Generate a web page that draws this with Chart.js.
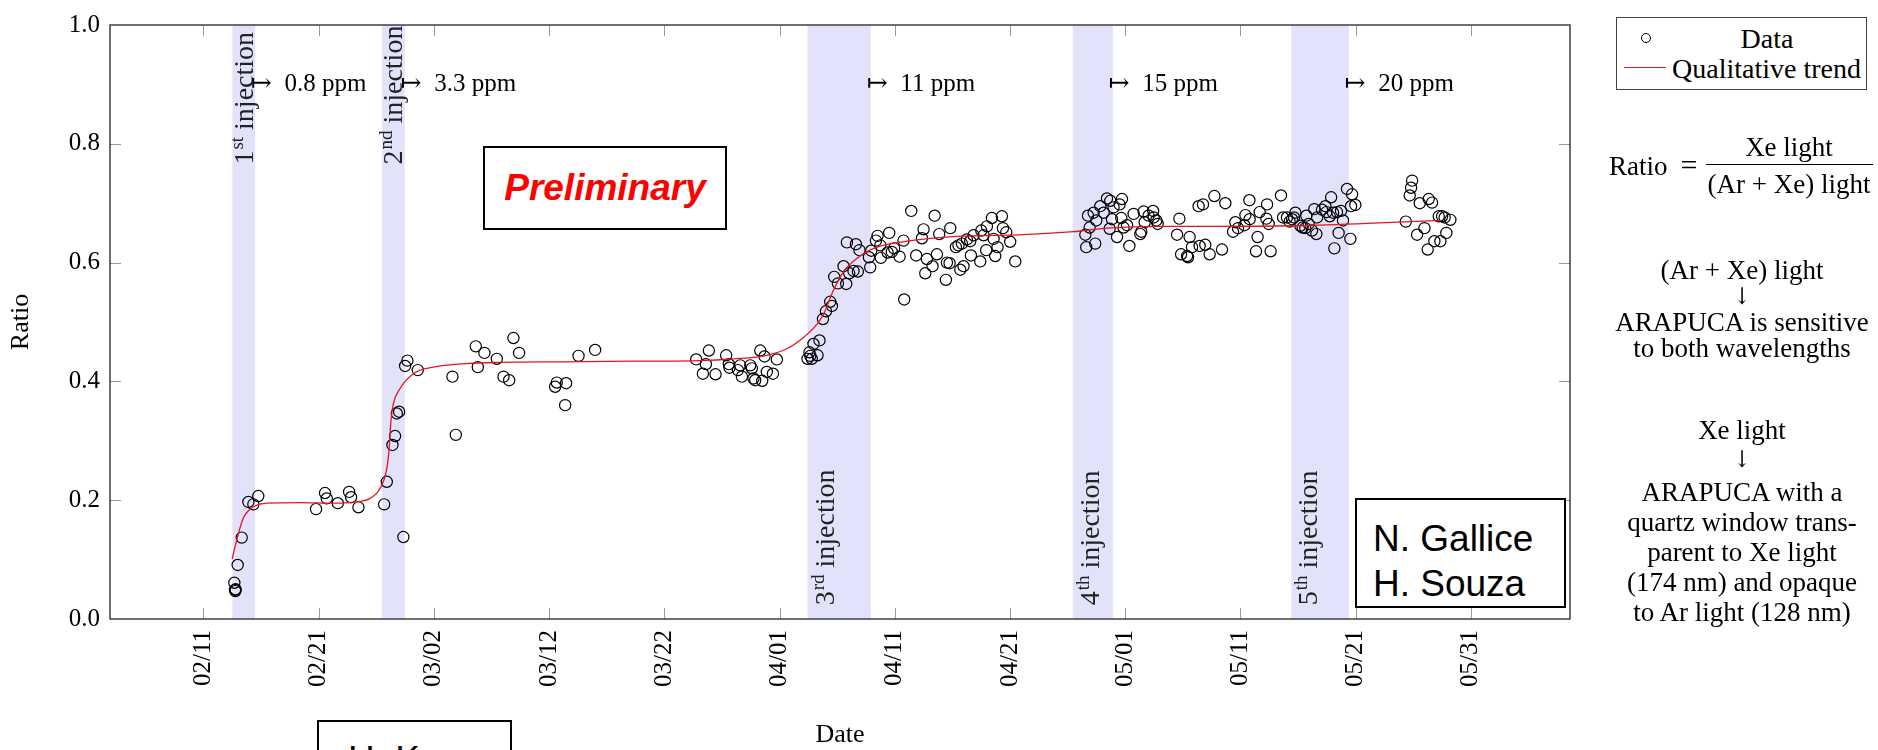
<!DOCTYPE html>
<html>
<head>
<meta charset="utf-8">
<title>Xe doping ratio</title>
<script src="https://cdn.jsdelivr.net/npm/chart.js@4.4.1/dist/chart.umd.min.js"></script>
<style>
  body { margin: 0; background: #fff; overflow: hidden; }
  #wrap { position: relative; width: 1878px; height: 750px; overflow: hidden; }
  #chart { position: absolute; left: 0; top: 0; }
  .box { position: absolute; box-sizing: border-box; border: 2px solid #000; background: #fff; }
  .sans { position: absolute; font-family: "Liberation Sans", Arial, sans-serif; font-size: 37px; line-height: 45px; white-space: nowrap; }
  .tex { position: absolute; font-family: "Liberation Serif", "DejaVu Serif", serif; font-size: 27px; line-height: 1; white-space: nowrap; color: #000; transform: translate(-50%, -50%); }
  .texl { transform: translate(0, -50%); }
  .arrow { font-family: "DejaVu Serif", serif; font-size: 20px; transform: translate(-50%, -50%) scaleY(1.15); }
</style>
</head>
<body>
<div id="wrap">
  <canvas id="chart" width="1878" height="750"></canvas>

  <!-- caixas de texto sobre o gráfico -->
  <div class="box" style="left:483px; top:146px; width:244px; height:84px;"></div>
  <div class="sans" style="left:483px; top:165px; width:244px; text-align:center; color:#f00; font-weight:bold; font-style:italic;">Preliminary</div>

  <div class="box" style="left:1355px; top:498px; width:211px; height:110px;"></div>
  <div class="sans" style="left:1373px; top:516px;">N. Gallice</div>
  <div class="sans" style="left:1373px; top:561px;">H. Souza</div>

  <div class="box" style="left:317px; top:720px; width:195px; height:60px;"></div>
  <div class="sans" style="left:348px; top:737px;">H. K</div>

  <!-- legenda -->
  <div class="box" style="left:1616px; top:17px; width:251px; height:73px; border:1.3px solid #444;"></div>
  <div style="position:absolute; left:1641px; top:33px; width:8px; height:8px; border:1.2px solid #000; border-radius:50%;"></div>
  <div class="tex" style="left:1767px; top:39px; font-size:28px;">Data</div>
  <div style="position:absolute; left:1624px; top:67px; width:42px; height:1.3px; background:#e8141c;"></div>
  <div class="tex texl" style="left:1672px; top:69px; font-size:28px;">Qualitative trend</div>

  <!-- fórmula e notas -->
  <div class="tex texl" style="left:1609px; top:166px;">Ratio</div>
  <div class="tex" style="left:1689px; top:165px; font-size:30px;">=</div>
  <div class="tex" style="left:1789px; top:147px;">Xe light</div>
  <div style="position:absolute; left:1706px; top:164px; width:167px; height:1.3px; background:#000;"></div>
  <div class="tex" style="left:1789px; top:184px;">(Ar + Xe) light</div>

  <div class="tex" style="left:1742px; top:270px;">(Ar + Xe) light</div>
  <div class="tex arrow" style="left:1742px; top:296px;">↓</div>
  <div class="tex" style="left:1742px; top:322px;">ARAPUCA is sensitive</div>
  <div class="tex" style="left:1742px; top:348px;">to both wavelengths</div>

  <div class="tex" style="left:1742px; top:430px;">Xe light</div>
  <div class="tex arrow" style="left:1742px; top:459px;">↓</div>
  <div class="tex" style="left:1742px; top:492px;">ARAPUCA with a</div>
  <div class="tex" style="left:1742px; top:522px;">quartz window trans-</div>
  <div class="tex" style="left:1742px; top:552px;">parent to Xe light</div>
  <div class="tex" style="left:1742px; top:582px;">(174 nm) and opaque</div>
  <div class="tex" style="left:1742px; top:612px;">to Ar light (128 nm)</div>
</div>

<script>
// ── Eixo x: dias contados a partir de 02/11 ──
const tickDays = [0, 10, 20, 30, 40, 50, 60, 70, 80, 90, 100, 110];
const tickLabels = ["02/11", "02/21", "03/02", "03/12", "03/22", "04/01",
  "04/11", "04/21", "05/01", "05/11", "05/21", "05/31"];

// ── Períodos de injeção ──
const injStart = [2.52, 15.51, 52.43, 75.45, 94.42];
const injEnd = [4.49, 17.48, 57.93, 78.93, 99.41];
const injNumber = ["1", "2", "3", "4", "5"];
const injSuffix = ["st", "nd", "rd", "th", "th"];
const ppmLabels = ["0.8 ppm", "3.3 ppm", "11 ppm", "15 ppm", "20 ppm"];

// ── Medidas ──
const dataDays = [
  2.69, 2.75, 2.78, 2.80, 2.98, 3.33, 3.91, 4.34, 4.77,
  9.78, 10.56, 10.71, 11.67, 12.65, 12.82, 13.46,
  15.69, 15.92, 16.41, 16.64, 16.79, 16.99, 17.36, 17.51, 17.71, 18.61,
  21.62, 21.91, 23.64, 23.82, 24.39, 25.47, 26.05, 26.54, 26.91, 27.40,
  30.53, 30.67, 31.40, 31.48, 32.56, 34.00,
  42.77, 43.35, 43.61, 43.87, 44.45, 45.37, 45.60, 45.66, 46.39, 46.59,
  46.74, 47.46, 47.60, 47.74, 47.89, 48.33, 48.50, 48.70, 48.90, 49.43, 49.77,
  52.43, 52.60, 52.67, 52.80, 52.95, 53.30, 53.47, 53.77, 54.03, 54.40,
  54.55, 54.75, 55.07, 55.56, 55.79, 55.85, 56.05, 56.42, 56.63, 56.80,
  56.94, 57.76, 57.87, 57.96, 58.37, 58.51, 58.75, 58.80, 59.38, 59.52,
  59.75, 59.95, 60.42, 60.76, 60.82, 61.43, 61.86, 62.36, 62.50, 62.65,
  62.79, 63.28, 63.46, 63.66, 63.86, 64.44, 64.53, 64.76, 64.82, 65.31,
  65.53, 65.69, 65.83, 65.97, 66.26, 66.55, 66.61, 66.84, 67.42, 67.51,
  67.71, 67.94, 68.00, 68.43, 68.58, 68.72, 68.92, 69.30, 69.39, 69.68,
  70.02, 70.46,
  76.54, 76.62, 76.77, 76.91, 77.26, 77.40, 77.49, 77.84, 78.13, 78.42,
  78.65, 78.71, 78.85, 78.99, 79.29, 79.51, 79.66, 79.72, 79.86, 80.16,
  80.36, 80.73, 81.31, 81.40, 81.60, 81.69, 82.03, 82.42, 82.47, 82.70,
  82.82, 84.50, 84.70, 84.85, 85.37, 85.45, 85.59, 85.80, 86.37, 86.46,
  86.75, 86.95, 87.33, 87.74, 88.40, 88.69, 89.36, 89.56, 89.79, 90.34,
  90.43, 90.78, 90.80, 91.35, 91.49, 91.67, 92.25, 92.31, 92.45, 92.62,
  93.52, 93.70, 94.04, 94.27, 94.48, 94.65, 94.77, 95.20, 95.40, 95.63,
  95.72, 95.92, 96.21, 96.41, 96.59, 96.65, 97.08, 97.37, 97.46, 97.75,
  97.87, 98.04, 98.15, 98.38, 98.52, 98.73, 98.90, 99.25, 99.54, 99.60,
  99.69, 99.97,
  104.35, 104.69, 104.81, 104.90, 105.33, 105.56, 105.97, 106.25, 106.34,
  106.63, 106.83, 107.21, 107.35, 107.50, 107.72, 107.87, 108.22,
];
const dataRatio = [
  0.061, 0.049, 0.047, 0.050, 0.091, 0.137, 0.197, 0.193, 0.207,
  0.185, 0.212, 0.203, 0.195, 0.214, 0.205, 0.188,
  0.193, 0.231, 0.293, 0.308, 0.346, 0.349, 0.138, 0.426, 0.435, 0.419,
  0.408, 0.310, 0.459, 0.424, 0.448, 0.438, 0.408, 0.402, 0.473, 0.448,
  0.391, 0.398, 0.360, 0.397, 0.443, 0.453,
  0.437, 0.413, 0.429, 0.452, 0.412, 0.444, 0.429, 0.423, 0.419, 0.427,
  0.408, 0.427, 0.422, 0.405, 0.402, 0.452, 0.401, 0.442, 0.416, 0.413, 0.437,
  0.438, 0.449, 0.443, 0.438, 0.463, 0.444, 0.469, 0.505, 0.518, 0.534,
  0.527, 0.576, 0.565, 0.594, 0.564, 0.634, 0.582, 0.586, 0.631, 0.585,
  0.621, 0.609, 0.592, 0.620, 0.637, 0.645, 0.629, 0.608, 0.617, 0.650,
  0.618, 0.624, 0.610, 0.637, 0.538, 0.687, 0.612, 0.641, 0.656, 0.582,
  0.606, 0.594, 0.679, 0.614, 0.648, 0.571, 0.600, 0.599, 0.658, 0.626,
  0.629, 0.588, 0.632, 0.594, 0.639, 0.636, 0.612, 0.646, 0.602, 0.654,
  0.646, 0.621, 0.661, 0.675, 0.640, 0.611, 0.626, 0.678, 0.658, 0.651,
  0.635, 0.602,
  0.647, 0.626, 0.679, 0.659, 0.684, 0.632, 0.671, 0.695, 0.684, 0.708,
  0.657, 0.704, 0.673, 0.693, 0.643, 0.698, 0.675, 0.707, 0.659, 0.663,
  0.628, 0.682, 0.648, 0.652, 0.686, 0.668, 0.679, 0.687, 0.676, 0.671,
  0.665, 0.647, 0.674, 0.614, 0.611, 0.609, 0.643, 0.626, 0.695, 0.628,
  0.698, 0.630, 0.614, 0.712, 0.622, 0.700, 0.652, 0.668, 0.658, 0.663,
  0.680, 0.705, 0.673, 0.619, 0.643, 0.685, 0.674, 0.698, 0.665, 0.619,
  0.713, 0.676, 0.676, 0.669, 0.673, 0.676, 0.684, 0.662, 0.659, 0.658,
  0.679, 0.665, 0.654, 0.690, 0.648, 0.676, 0.689, 0.695, 0.685, 0.678,
  0.710, 0.684, 0.624, 0.685, 0.650, 0.687, 0.671, 0.724, 0.640, 0.695,
  0.715, 0.697,
  0.669, 0.713, 0.726, 0.738, 0.647, 0.700, 0.658, 0.622, 0.707,
  0.701, 0.636, 0.678, 0.636, 0.678, 0.676, 0.650, 0.672,
];

// ── Tendência qualitativa ──
const trendDays = [2.5, 2.95, 3.47, 3.9, 4.34, 5.5, 8.4, 11.3, 13.6, 14.47,
  15.34, 15.92, 16.12, 16.29, 16.5, 17.07, 18.23, 19.97, 22.86, 25.75, 31.0,
  37.33, 43.1, 46.0, 48.9, 50.64, 52.08, 53.24, 53.82, 54.69, 55.56, 56.72,
  58.16, 61.06, 65.4, 71.18, 75.52, 78.42, 82.76, 88.0, 94.5, 101.0, 107.4];
const trendRatio = [0.101, 0.137, 0.170, 0.182, 0.189, 0.195, 0.196, 0.195,
  0.198, 0.203, 0.220, 0.253, 0.286, 0.336, 0.363, 0.388, 0.413, 0.424, 0.430,
  0.432, 0.433, 0.434, 0.435, 0.438, 0.444, 0.455, 0.474, 0.496, 0.513, 0.554,
  0.585, 0.607, 0.624, 0.636, 0.644, 0.647, 0.652, 0.658, 0.661, 0.661, 0.662,
  0.666, 0.671];

const serif = "'Liberation Serif', 'DejaVu Serif', serif";

// Faixas de injeção, rótulos, moldura e marcas internas (estilo pgfplots)
const decorPlugin = {
  id: "decor",
  beforeDatasetsDraw(chart) {
    const { ctx, chartArea: a, scales: { x, y } } = chart;
    ctx.save();

    ctx.fillStyle = "rgb(226, 226, 251)";
    injStart.forEach((s, i) => {
      const x0 = x.getPixelForValue(s);
      const x1 = x.getPixelForValue(injEnd[i]);
      ctx.fillRect(x0, a.top, x1 - x0, a.bottom - a.top);
    });

    // marcas para dentro
    ctx.strokeStyle = "#9a9a9a";
    ctx.lineWidth = 1;
    ctx.beginPath();
    tickDays.forEach((d) => {
      const px = Math.round(x.getPixelForValue(d)) + 0.5;
      ctx.moveTo(px, a.bottom); ctx.lineTo(px, a.bottom - 11);
      ctx.moveTo(px, a.top); ctx.lineTo(px, a.top + 11);
    });
    [0.2, 0.4, 0.6, 0.8].forEach((v) => {
      const py = Math.round(y.getPixelForValue(v)) + 0.5;
      ctx.moveTo(a.left, py); ctx.lineTo(a.left + 11, py);
      ctx.moveTo(a.right, py); ctx.lineTo(a.right - 11, py);
    });
    ctx.stroke();

    // "n-ésima injection" na vertical
    ctx.fillStyle = "#222";
    injStart.forEach((s, i) => {
      const x0 = x.getPixelForValue(s);
      const x1 = x.getPixelForValue(injEnd[i]);
      const cx = Math.min((x0 + x1) / 2, x0 + 17);
      const cy = y.getPixelForValue(i < 2 ? 0.765 : 0.023);
      ctx.save();
      ctx.translate(cx + 9, cy);
      ctx.rotate(-Math.PI / 2);
      ctx.textAlign = "left";
      ctx.textBaseline = "alphabetic";
      ctx.font = `28px ${serif}`;
      ctx.fillText(injNumber[i], 0, 0);
      let w = ctx.measureText(injNumber[i]).width;
      ctx.font = `19px ${serif}`;
      ctx.fillText(injSuffix[i], w + 1, -10);
      w += ctx.measureText(injSuffix[i]).width + 1;
      ctx.font = `28px ${serif}`;
      ctx.fillText(" injection", w, 0);
      ctx.restore();
    });

    // concentração após cada injeção
    ctx.fillStyle = "#000";
    ctx.font = `25px ${serif}`;
    ctx.textAlign = "left";
    ctx.textBaseline = "middle";
    injEnd.forEach((e, i) => {
      ctx.fillText("↦  " + ppmLabels[i], x.getPixelForValue(e) - 4, y.getPixelForValue(0.9));
    });
    ctx.restore();
  },
  afterDatasetsDraw(chart) {
    const { ctx, chartArea: a } = chart;
    ctx.save();
    ctx.strokeStyle = "#333";
    ctx.lineWidth = 1.4;
    ctx.strokeRect(a.left, a.top, a.right - a.left, a.bottom - a.top);
    ctx.restore();
  },
};

Chart.defaults.color = "#000";
Chart.defaults.font.family = serif;

const ctx = document.getElementById("chart").getContext("2d");
new Chart(ctx, {
  type: "scatter",
  data: {
    datasets: [
      {
        label: "Data",
        data: dataDays.map((d, i) => ({ x: d, y: dataRatio[i] })),
        pointStyle: "circle",
        pointRadius: 5.6,
        borderColor: "#000",
        borderWidth: 1.2,
        backgroundColor: "rgba(0,0,0,0)",
        order: 2,
      },
      {
        label: "Qualitative trend",
        type: "line",
        data: trendDays.map((d, i) => ({ x: d, y: trendRatio[i] })),
        borderColor: "#e8141c",
        borderWidth: 1.3,
        pointRadius: 0,
        cubicInterpolationMode: "monotone",
        fill: false,
        order: 1,
      },
    ],
  },
  options: {
    responsive: false,
    animation: false,
    layout: { padding: { left: 0, top: 16, right: 308, bottom: 0 } },
    plugins: { legend: { display: false }, tooltip: { enabled: false } },
    scales: {
      x: {
        type: "linear",
        min: -8.1,
        max: 118.6,
        afterBuildTicks: (s) => { s.ticks = tickDays.map((v) => ({ value: v })); },
        afterFit: (s) => { s.height = 131; },
        grid: { display: false, drawTicks: false },
        border: { display: false },
        ticks: {
          autoSkip: false,
          minRotation: 90,
          maxRotation: 90,
          padding: 11,
          font: { size: 25 },
          callback: (v) => {
            const i = tickDays.indexOf(v);
            return i >= 0 ? tickLabels[i] : "";
          },
        },
        title: { display: true, text: "Date", font: { size: 26, lineHeight: 1 }, padding: { top: 0, bottom: 2 } },
      },
      y: {
        min: 0,
        max: 1,
        afterFit: (s) => { s.width = 110; },
        grid: { display: false, drawTicks: false },
        border: { display: false },
        ticks: { stepSize: 0.2, padding: 10, font: { size: 25 }, callback: (v) => v.toFixed(1) },
        title: { display: true, text: "Ratio", font: { size: 26 }, padding: { top: 6, bottom: 0 } },
      },
    },
  },
  plugins: [decorPlugin],
});
</script>
</body>
</html>
